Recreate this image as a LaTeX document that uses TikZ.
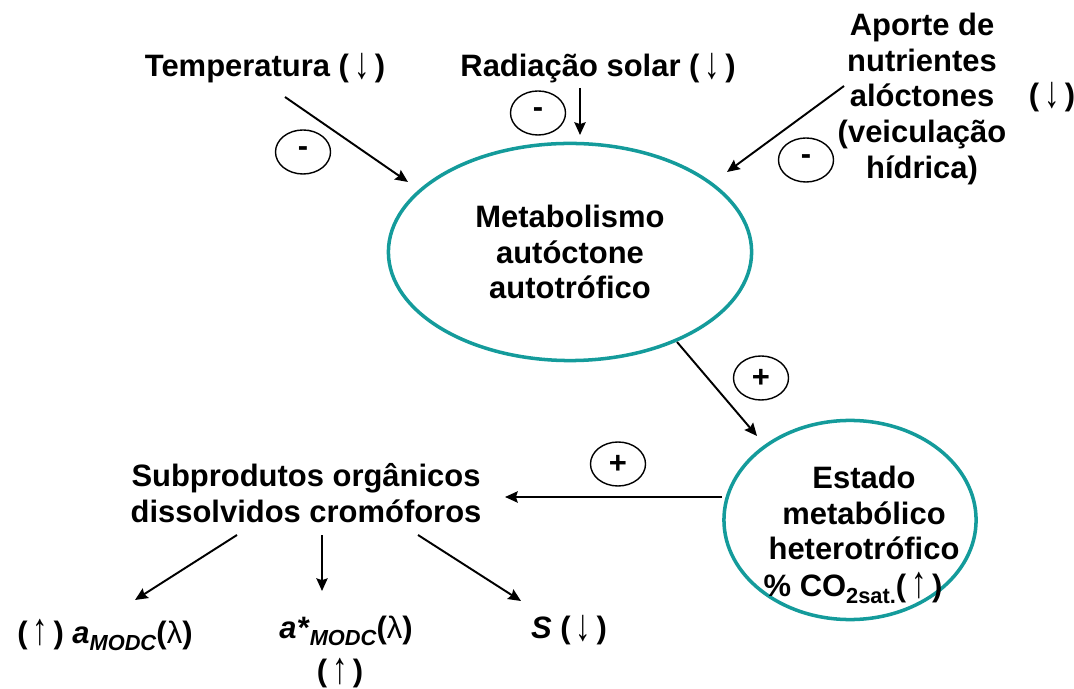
\documentclass[tikz,border=0pt]{standalone}
\usepackage{fontspec}
\setmainfont{Liberation Sans}
\usetikzlibrary{shapes.geometric,arrows.meta}
\definecolor{poolteal}{RGB}{20,155,155}
\newcommand\lowtext[1]{\raisebox{-0.45ex}{\fontsize{6.2}{7}\selectfont #1}}
\newcommand\arrdn{(\,\raisebox{-0.1ex}{\scalebox{1}[1.45]{\char"2193}}\,)}
\newcommand\arrup{(\,\raisebox{-0.1ex}{\scalebox{1}[1.45]{\char"2191}}\,)}

\begin{document}
\begin{tikzpicture}
  [x=0.01cm,y=-0.01cm,
    every node/.style={font=\bfseries\fontsize{8.8}{10.2}\selectfont,align=center,inner sep=1pt},
    pool/.style={ellipse,draw=poolteal,line width=1pt},
    sign/.style={ellipse,draw,line width=0.4pt,minimum width=0.55cm,minimum height=0.44cm,inner sep=0pt},
    flow/.style={-{Stealth[length=3.6pt,width=3.2pt,inset=0.5pt]},line width=0.55pt},
  ]
  \useasboundingbox (0,0) rectangle (1074,689);
  % forcings
  \node (temp) at (265,68) {Temperatura \arrdn};
  \node (rad) at (598,68) {Radiação solar \arrdn};
  \node (aporte) at (922,99) {Aporte de\\nutrientes\\alóctones\\(veiculação\\hídrica)};
  \node (aporteup) at (1052,97) {\arrdn};
  % pools
  \node[pool,minimum width=3.63cm,minimum height=2.17cm] (meta) at (570,252)
    {Metabolismo\\autóctone\\autotrófico};
  \node[pool,minimum width=2.52cm,minimum height=1.99cm] (estado) at (850,520) {};
  \node (estadotxt) at (864,513) {Estado\\metabólico\\heterotrófico};
  \node (co2) at (853,588) {\% CO\lowtext{2sat.}\arrup};
  \node (subp) at (306,493) {Subprodutos orgânicos\\dissolvidos cromóforos};
  % optical properties
  \node (amodc) at (105,635) {\arrup\ \textit{a}\lowtext{\textit{MODC}}({\mdseries λ})};
  \node (astar) at (346,631) {\textit{a*}\lowtext{\textit{MODC}}({\mdseries λ})};
  \node[inner sep=0pt] (astarup) at (340,673) {\arrup};
  \node (slope) at (569,630) {\textit{S} \arrdn};
  % signs
  \node[sign] (s1) at (303,152) {-};
  \node[sign] (s2) at (538,113) {-};
  \node[sign] (s3) at (806,160) {-};
  \node[sign] (s4) at (761,378) {+};
  \node[sign] (s5) at (618,464) {+};
  % connector ends
  \coordinate (t1) at (285,97);   \coordinate (t2) at (408,182);
  \coordinate (r1) at (580,88);   \coordinate (r2) at (580,135);
  \coordinate (n1) at (844,86);   \coordinate (n2) at (727,172);
  \coordinate (m1) at (677,342);  \coordinate (m2) at (757,436);
  \coordinate (e1) at (722,497);  \coordinate (e2) at (505,497);
  \coordinate (p1) at (237,535);  \coordinate (p2) at (135,600);
  \coordinate (q1) at (322,535);  \coordinate (q2) at (322,591);
  \coordinate (u1) at (418,535);  \coordinate (u2) at (521,601);
  \draw[flow] (t1) -- (t2);
  \draw[flow] (r1) -- (r2);
  \draw[flow] (n1) -- (n2);
  \draw[flow] (m1) -- (m2);
  \draw[flow] (e1) -- (e2);
  \draw[flow] (p1) -- (p2);
  \draw[flow] (q1) -- (q2);
  \draw[flow] (u1) -- (u2);
\end{tikzpicture}
\end{document}
